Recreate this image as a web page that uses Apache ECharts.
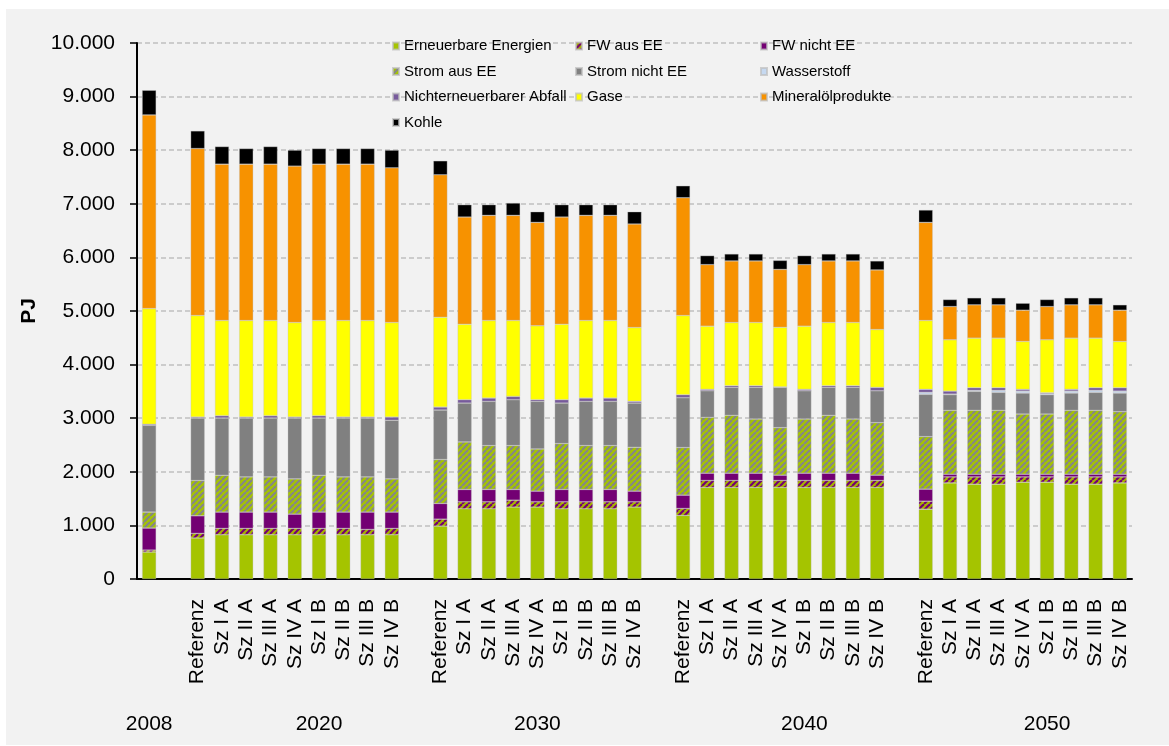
<!DOCTYPE html>
<html>
<head>
<meta charset="utf-8">
<script src="https://cdn.jsdelivr.net/npm/echarts@6/dist/echarts.min.js"></script>
<style>
  html, body { margin: 0; padding: 0; background: #ffffff; }
  #panel { position: absolute; left: 6px; top: 9px; width: 1163px; height: 736px; background: #f2f2f2; }
  #chart { position: absolute; left: 0; top: 0; width: 1169px; height: 746px; }
</style>
</head>
<body>
<div id="panel"></div>
<div id="chart"></div>
<script>
// ---- Data (order: 2008, then 2020/2030/2040/2050 x 9 scenarios) ----
const scenarios = ['Referenz', 'Sz I A', 'Sz II A', 'Sz III A', 'Sz IV A', 'Sz I B', 'Sz II B', 'Sz III B', 'Sz IV B'];
const years = ['2008', '2020', '2030', '2040', '2050'];
const yTicks = [0, 1000, 2000, 3000, 4000, 5000, 6000, 7000, 8000, 9000, 10000];

const erneuerbare = [503,
  765, 825, 825, 825, 825, 825, 825, 825, 825,
  987, 1309, 1309, 1341, 1341, 1309, 1309, 1309, 1341,
  1186, 1707, 1707, 1707, 1707, 1707, 1707, 1707, 1707,
  1303, 1793, 1769, 1769, 1806, 1806, 1769, 1769, 1793];
const fwAusEE = [37,
  86, 119, 119, 119, 119, 119, 119, 100, 119,
  130, 131, 131, 130, 99, 131, 131, 131, 99,
  130, 131, 131, 131, 131, 131, 131, 131, 131,
  149, 112, 136, 136, 99, 99, 136, 136, 112];
const fwNichtEE = [410,
  328, 304, 304, 304, 266, 304, 304, 323, 304,
  292, 230, 230, 199, 199, 230, 230, 230, 199,
  248, 136, 136, 136, 99, 136, 136, 136, 99,
  224, 50, 50, 50, 50, 50, 50, 50, 50];
const stromAusEE = [298,
  659, 688, 657, 657, 658, 688, 657, 657, 620,
  820, 887, 820, 820, 787, 857, 820, 820, 819,
  888, 1042, 1080, 1011, 887, 1011, 1080, 1011, 980,
  981, 1192, 1192, 1192, 1123, 1123, 1192, 1192, 1167];
const stromNichtEE = [1619,
  1166, 1068, 1099, 1099, 1136, 1068, 1099, 1099, 1093,
  924, 726, 824, 856, 888, 756, 824, 824, 825,
  931, 497, 521, 590, 751, 528, 521, 590, 596,
  788, 292, 354, 335, 391, 361, 322, 335, 347];
const wasserstoff = [0,
  0, 0, 0, 0, 0, 0, 0, 0, 0,
  0, 0, 0, 0, 0, 0, 0, 0, 0,
  0, 0, 0, 0, 0, 0, 0, 0, 0,
  37, 11, 18, 37, 37, 19, 37, 37, 37];
const abfall = [19,
  18, 44, 18, 44, 18, 44, 18, 18, 61,
  55, 63, 62, 61, 32, 63, 62, 62, 31,
  56, 25, 31, 31, 10, 25, 31, 31, 62,
  56, 56, 50, 50, 32, 18, 32, 50, 63];
const gase = [2160,
  1894, 1775, 1801, 1775, 1763, 1775, 1801, 1801, 1763,
  1676, 1408, 1447, 1416, 1378, 1408, 1447, 1447, 1378,
  1477, 1179, 1179, 1179, 1111, 1179, 1179, 1179, 1080,
  1285, 957, 925, 925, 894, 987, 956, 925, 863];
const mineraloel = [3612,
  3115, 2917, 2917, 2917, 2918, 2917, 2917, 2917, 2886,
  2657, 1999, 1961, 1961, 1929, 1999, 1961, 1961, 1931,
  2197, 1148, 1149, 1149, 1080, 1148, 1149, 1149, 1111,
  1830, 620, 621, 621, 583, 620, 621, 621, 583];
const kohle = [460,
  329, 328, 291, 328, 298, 291, 291, 291, 330,
  261, 230, 199, 230, 199, 230, 199, 199, 229,
  223, 168, 130, 130, 168, 168, 130, 130, 168,
  231, 131, 130, 130, 130, 131, 130, 130, 100];

// ---- Build slot layout: 2008 bar, gap, then 4 groups of 9 separated by gaps ----
const slotLabels = [''];
const slotSource = [0];
for (let g = 0; g < 4; g++) {
  slotLabels.push(''); slotSource.push(-1);
  for (let s = 0; s < scenarios.length; s++) {
    slotLabels.push(scenarios[s]);
    slotSource.push(1 + g * 9 + s);
  }
}
const yearSlots = [0, 7, 16, 27, 37];
const yearLabels = slotLabels.map(() => '');
yearSlots.forEach((s, i) => { yearLabels[s] = years[i]; });

function toSlots(arr) {
  return slotSource.map(i => (i < 0 ? '-' : arr[i]));
}

function stripes(bg, fg) {
  const c = document.createElement('canvas');
  const n = 6;
  c.width = n; c.height = n;
  const ctx = c.getContext('2d');
  ctx.fillStyle = bg; ctx.fillRect(0, 0, n, n);
  ctx.strokeStyle = fg; ctx.lineWidth = 2.2;
  for (let o = -n; o <= n; o += n) {
    ctx.beginPath(); ctx.moveTo(o, n); ctx.lineTo(o + n, 0); ctx.stroke();
  }
  return { image: c, repeat: 'repeat' };
}

const seriesDefs = [
  ['Erneuerbare Energien', erneuerbare, '#a5c400'],
  ['FW aus EE', fwAusEE, stripes('#a7b300', '#730073')],
  ['FW nicht EE', fwNichtEE, '#730073'],
  ['Strom aus EE', stromAusEE, stripes('#a5c400', '#868686')],
  ['Strom nicht EE', stromNichtEE, '#808080'],
  ['Wasserstoff', wasserstoff, '#c6d9f1'],
  ['Nichterneuerbarer Abfall', abfall, '#775a9c'],
  ['Gase', gase, '#ffff00'],
  ['Mineralölprodukte', mineraloel, '#f79200'],
  ['Kohle', kohle, '#000000']
];

const FONT = "'Liberation Sans', Arial, sans-serif";

function fmt(v) {
  return String(v).replace(/\B(?=(\d{3})+(?!\d))/g, '.');
}

const legendBase = {
  orient: 'vertical',
  itemWidth: 6,
  itemHeight: 7,
  itemGap: 7.5,
  icon: 'rect',
  selectedMode: false,
  textStyle: { fontFamily: FONT, fontSize: 15, color: '#000', lineHeight: 18 }
};

const chart = echarts.init(document.getElementById('chart'), null, { renderer: 'canvas' });
chart.setOption({
  backgroundColor: 'transparent',
  animation: false,
  textStyle: { fontFamily: FONT },
  legend: [
    Object.assign({}, legendBase, { left: 387, top: 32, data: ['Erneuerbare Energien', 'Strom aus EE', 'Nichterneuerbarer Abfall', 'Kohle'] }),
    Object.assign({}, legendBase, { left: 570, top: 32, data: ['FW aus EE', 'Strom nicht EE', 'Gase'] }),
    Object.assign({}, legendBase, { left: 755, top: 32, data: ['FW nicht EE', 'Wasserstoff', 'Mineralölprodukte'] })
  ],
  grid: { left: 137, right: 37, top: 43, bottom: 167 },
  xAxis: [
    {
      type: 'category',
      data: slotLabels,
      axisLine: { lineStyle: { color: '#000', width: 2 } },
      axisTick: { show: false },
      axisLabel: { interval: 0, rotate: 90, margin: 20, fontSize: 21, color: '#000', fontFamily: FONT }
    },
    {
      type: 'category',
      data: yearLabels,
      position: 'bottom',
      axisLine: { show: false },
      axisTick: { show: false },
      axisLabel: { interval: 0, margin: 135, fontSize: 21, color: '#000', fontFamily: FONT }
    }
  ],
  yAxis: {
    type: 'value',
    min: yTicks[0],
    max: yTicks[yTicks.length - 1],
    interval: 1000,
    name: 'PJ',
    nameLocation: 'middle',
    nameGap: 92,
    nameRotate: 90,
    nameTextStyle: { fontSize: 21, fontWeight: 'bold', color: '#000', fontFamily: FONT },
    axisLine: { show: true, lineStyle: { color: '#000', width: 2 } },
    axisTick: { show: true, length: 7, lineStyle: { color: '#000', width: 1.5 } },
    axisLabel: { margin: 22, fontSize: 21, color: '#000', fontFamily: FONT, formatter: fmt },
    splitLine: { show: true, lineStyle: { color: '#c0c0c0', type: [5, 3], width: 1.5 } }
  },
  series: seriesDefs.map(([name, arr, color]) => ({
    name: name,
    type: 'bar',
    stack: 'total',
    xAxisIndex: 0,
    barWidth: 14,
    data: toSlots(arr),
    itemStyle: { color: color, borderColor: 'rgba(190,190,190,0.7)', borderWidth: 0.5 },
    emphasis: { disabled: true }
  }))
});
</script>
</body>
</html>
